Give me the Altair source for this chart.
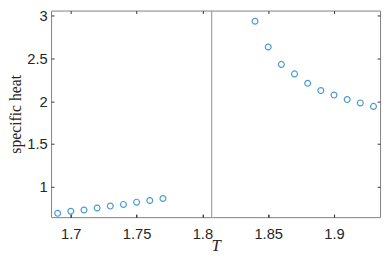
import altair as alt
import pandas as pd

T_low = [1.69, 1.70, 1.71, 1.72, 1.73, 1.74, 1.75, 1.76, 1.77]
C_low = [0.690, 0.714, 0.729, 0.752, 0.775, 0.794, 0.820, 0.840, 0.863]
T_high = [1.84, 1.85, 1.86, 1.87, 1.88, 1.89, 1.90, 1.91, 1.92, 1.93]
C_high = [2.935, 2.634, 2.431, 2.320, 2.210, 2.125, 2.072, 2.020, 1.980, 1.940]
T_crit = [1.807]
x_ticks = [1.7, 1.75, 1.8, 1.85, 1.9]
y_ticks = [1, 1.5, 2, 2.5, 3]

df = pd.DataFrame({"T": T_low + T_high, "C": C_low + C_high})
crit = pd.DataFrame({"T": T_crit})

W, H = 336, 211
xs = alt.Scale(domain=[1.685, 1.935], nice=False, zero=False)
ys = alt.Scale(domain=[0.645, 3.06], nice=False, zero=False)
TXT = "#262626"
GRID = "#808080"

def tick_axis(orient, offset, values):
    return alt.Axis(orient=orient, offset=offset, values=values, labels=False,
                    domain=False, ticks=True, tickSize=3, tickColor="#333333",
                    tickWidth=1, title=None, grid=False)

main = alt.Chart(df).mark_point(shape="circle", filled=False, size=36,
                                strokeWidth=1.2, color="#0072BD").encode(
    x=alt.X("T:Q", scale=xs, axis=alt.Axis(
        orient="bottom", values=x_ticks, ticks=False, domain=False,
        labelFont="Liberation Sans", labelFontSize=15, labelColor=TXT,
        labelPadding=10, format="~g", grid=False,
        title="T", titleFont="Liberation Serif", titleFontStyle="italic",
        titleFontWeight="normal", titleFontSize=17, titleColor=TXT,
        titleBaseline="alphabetic", titleY=34)),
    y=alt.Y("C:Q", scale=ys, axis=alt.Axis(
        orient="left", values=y_ticks, ticks=False, domain=False,
        labelFont="Liberation Sans", labelFontSize=15, labelColor=TXT,
        labelPadding=4, format="~g", grid=False,
        title="specific heat", titleFont="Liberation Serif",
        titleFontWeight="normal", titleFontSize=16, titleColor=TXT,
        titleBaseline="alphabetic", titleX=-31)),
)

rule = alt.Chart(crit).mark_rule(color="#a6a6a6", strokeWidth=1.3).encode(
    x=alt.X("T:Q", scale=xs, axis=tick_axis("top", -H, x_ticks)),
)

ghost1 = alt.Chart(df).mark_point(opacity=0, size=0).encode(
    x=alt.X("T:Q", scale=xs, axis=tick_axis("bottom", -H, x_ticks)),
    y=alt.Y("C:Q", scale=ys, axis=tick_axis("right", -W, y_ticks)),
)
ghost2 = alt.Chart(df).mark_point(opacity=0, size=0).encode(
    x=alt.X("T:Q", scale=xs, axis=tick_axis("top", -H, x_ticks)),
    y=alt.Y("C:Q", scale=ys, axis=tick_axis("left", -W, y_ticks)),
)

chart = alt.layer(rule, main, ghost1, ghost2).resolve_axis(
    x="independent", y="independent"
).properties(
    width=W, height=H,
    autosize=alt.AutoSizeParams(type="none"),
    padding={"left": 44, "top": 0, "right": 3, "bottom": 36},
).configure_view(stroke=GRID, strokeWidth=1)

chart.save("out.html", embed_options={"renderer": "svg", "actions": False})
